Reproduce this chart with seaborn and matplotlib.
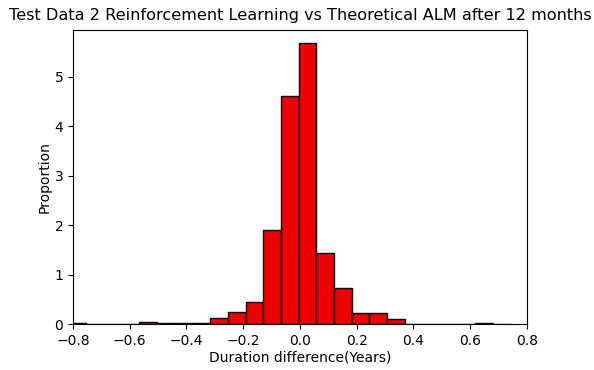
import numpy as np
import pandas as pd
import matplotlib
matplotlib.use("Agg")
import matplotlib.pyplot as plt
import seaborn as sns

# Histogram of duration differences (years): 25 equal bins between data min and max
data_min = -0.815
data_max = 0.7425
n_bins = 25
proportion = [0.015, 0.0, 0.01, 0.01, 0.04, 0.02, 0.03, 0.03, 0.13, 0.24,
              0.45, 1.90, 4.62, 5.68, 1.43, 0.73, 0.23, 0.22, 0.10, 0.01,
              0.01, 0.01, 0.0, 0.015, 0.01]
title = "Test Data 2 Reinforcement Learning vs Theoretical ALM after 12 months"
xlabel = "Duration difference(Years)"
ylabel = "Proportion"

edges = np.linspace(data_min, data_max, n_bins + 1)
centers = (edges[:-1] + edges[1:]) / 2
df = pd.DataFrame({"diff": centers, "w": proportion})

sns.set_style("ticks")
plt.rcParams["font.family"] = ["DejaVu Sans"]
plt.rcParams["text.color"] = "black"
plt.rcParams["axes.labelcolor"] = "black"
plt.rcParams["xtick.color"] = "black"
plt.rcParams["ytick.color"] = "black"

fig = plt.figure(figsize=(5.94, 3.70), dpi=100)
ax = fig.add_axes([73 / 594, 46 / 370, 454 / 594, 294 / 370])
sns.histplot(data=df, x="diff", weights="w", bins=list(edges), stat="count",
             color="#ee0000", edgecolor="black", linewidth=1.0, alpha=1.0, ax=ax)
ax.set_xlim(-0.8, 0.8)
ax.set_ylim(0, 5.95)
ax.set_xticks(np.arange(-0.8, 0.81, 0.2))
ax.set_yticks([0, 1, 2, 3, 4, 5])
ax.set_title(title, fontsize=11.6, color="black", pad=7)
ax.set_xlabel(xlabel, fontsize=10, labelpad=2)
ax.set_ylabel(ylabel, fontsize=10, labelpad=2)
ax.tick_params(labelsize=10, direction="out", length=3.5, width=0.8, colors="black")
for s in ax.spines.values():
    s.set_visible(True)
    s.set_linewidth(0.8)
    s.set_color("black")
fig.savefig("out.png", dpi=100)
